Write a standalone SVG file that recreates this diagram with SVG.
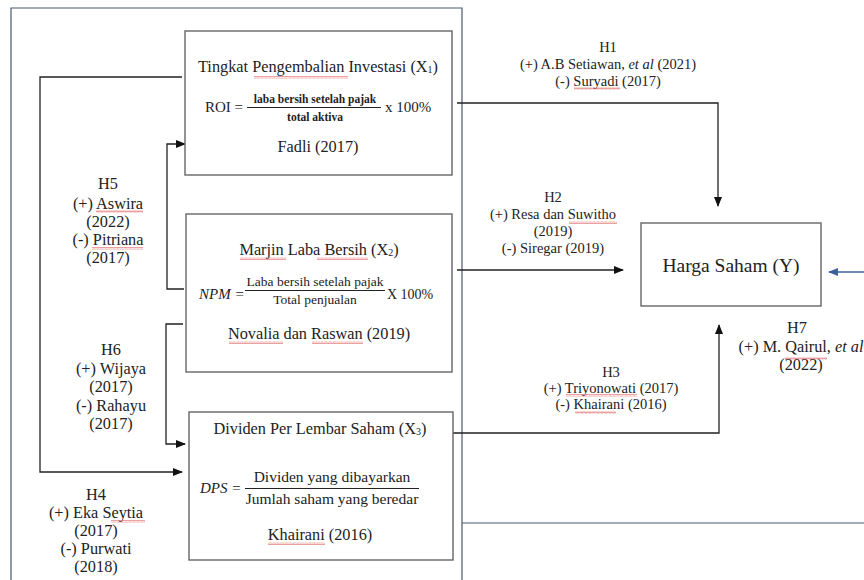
<svg xmlns="http://www.w3.org/2000/svg" width="864" height="580" viewBox="0 0 864 580">
<style>
text{font-family:"Liberation Serif","Times New Roman",serif;fill:#222;}
.t{font-size:16.3px;text-anchor:middle;}
.l{font-size:16.3px;text-anchor:middle;}
.h{font-size:14.5px;text-anchor:middle;}
.f{font-size:11.5px;text-anchor:middle;font-weight:bold;}
.m{font-size:15px;}
.mi{font-size:15px;font-style:italic;}
.box{fill:#fff;stroke:#666;stroke-width:1.4;}
.c{fill:none;stroke:#222;stroke-width:1.3;}
.frame{fill:none;stroke:#4a5a70;stroke-width:1.2;}
.sq{fill:url(#wave);}
</style>
<defs>
<marker id="ah" markerWidth="10" markerHeight="8" refX="9" refY="4" orient="auto" markerUnits="userSpaceOnUse">
<path d="M0,0 L10,4 L0,8 z" fill="#111"/>
</marker>
<marker id="ahb" markerWidth="10" markerHeight="8" refX="9" refY="4" orient="auto" markerUnits="userSpaceOnUse">
<path d="M0,0 L10,4 L0,8 z" fill="#3d5f9a"/>
</marker>
<pattern id="wave" width="4" height="3" patternUnits="userSpaceOnUse">
<path d="M0,2.5 L1,0.5 L2,2.5 L3,0.5 L4,2.5" fill="none" stroke="#e06060" stroke-width="0.6"/>
</pattern>
</defs>
<rect width="864" height="580" fill="#fff"/>
<g id="frame">
<path class="frame" d="M11,600 V8 H462 V600"/>
<line class="frame" x1="462" y1="523" x2="864" y2="523"/>
</g>
<g id="connectors">
<path class="c" d="M457,103 H718 V206" marker-end="url(#ah)"/>
<path class="c" d="M457,270 H623" marker-end="url(#ah)"/>
<path class="c" d="M453,433 H719 V325" marker-end="url(#ah)"/>
<path d="M864,272 H829" fill="none" stroke="#3d5f9a" stroke-width="1.3" marker-end="url(#ahb)"/>
<path class="c" d="M182,77 H40 V472 H182" marker-end="url(#ah)"/>
<path class="c" d="M184,289 H167 V144 H185" marker-end="url(#ah)"/>
<path class="c" d="M183,324 H166 V444 H185" marker-end="url(#ah)"/>
</g>
<g id="x1">
<rect class="box" x="185" y="31" width="267" height="144"/>
<text class="t" x="318" y="72">Tingkat Pengembalian Investasi (X<tspan font-size="10" dy="1">1</tspan><tspan dy="-1">)</tspan></text>
<text class="m" x="205" y="112">ROI =</text>
<text class="f" x="315" y="103">laba bersih setelah pajak</text>
<line x1="247" y1="107.5" x2="381" y2="107.5" stroke="#222" stroke-width="1"/>
<text class="f" x="315" y="121">total aktiva</text>
<text class="m" x="385" y="112">x 100%</text>
<text class="t" x="318" y="152">Fadli (2017)</text>
<rect class="sq" x="254" y="76" width="94" height="3"/>
</g>
<g id="x2">
<rect class="box" x="186" y="214" width="266" height="158"/>
<text class="t" x="319" y="255">Marjin Laba Bersih (X<tspan font-size="10" dy="1">2</tspan><tspan dy="-1">)</tspan></text>
<text class="mi" x="199" y="299">NPM =</text>
<text x="315" y="286" font-size="13.5" text-anchor="middle">Laba bersih setelah pajak</text>
<line x1="245" y1="290.5" x2="385" y2="290.5" stroke="#222" stroke-width="1"/>
<text x="315" y="304" font-size="13.5" text-anchor="middle">Total penjualan</text>
<text x="387" y="299" font-size="14">X 100%</text>
<text class="t" x="319" y="339">Novalia dan Raswan (2019)</text>
<rect class="sq" x="240" y="257" width="46" height="3"/>
<rect class="sq" x="317" y="257" width="51" height="3"/>
<rect class="sq" x="229" y="341" width="54" height="3"/>
<rect class="sq" x="312" y="341" width="51" height="3"/>
</g>
<g id="x3">
<rect class="box" x="189" y="412" width="264" height="148"/>
<text class="t" x="320" y="434">Dividen Per Lembar Saham (X<tspan font-size="10" dy="1">3</tspan><tspan dy="-1">)</tspan></text>
<text class="mi" x="200" y="493">DPS =</text>
<text x="332" y="482" font-size="15.5" text-anchor="middle">Dividen yang dibayarkan</text>
<line x1="245" y1="488.5" x2="419" y2="488.5" stroke="#222" stroke-width="1"/>
<text x="332" y="504" font-size="15.5" text-anchor="middle">Jumlah saham yang beredar</text>
<text class="t" x="320" y="540">Khairani (2016)</text>
<rect class="sq" x="268" y="542" width="57" height="3"/>
</g>
<g id="y">
<rect class="box" x="641" y="223" width="180" height="83"/>
<text x="731" y="272" font-size="19.5" text-anchor="middle">Harga Saham (Y)</text>
</g>
<g id="labels">
<text class="h" x="608" y="52">H1</text>
<text class="h" x="608" y="69">(+) A.B Setiawan, <tspan font-style="italic">et al</tspan> (2021)</text>
<text class="h" x="608" y="86">(-) Suryadi (2017)</text>
<rect class="sq" x="574" y="87" width="46" height="3"/>
<text class="h" x="553" y="202">H2</text>
<text class="h" x="553" y="219">(+) Resa dan Suwitho</text>
<text class="h" x="553" y="236">(2019)</text>
<text class="h" x="553" y="253">(-) Siregar (2019)</text>
<rect class="sq" x="569" y="221" width="48" height="3"/>
<text class="h" x="611" y="377">H3</text>
<text class="h" x="611" y="393">(+) Triyonowati (2017)</text>
<text class="h" x="611" y="409">(-) Khairani (2016)</text>
<rect class="sq" x="566" y="394" width="71" height="3"/>
<rect class="sq" x="575" y="411" width="41" height="3"/>
<text class="l" x="797" y="333">H7</text>
<text class="l" x="801" y="352">(+) M. Qairul, <tspan font-style="italic">et al</tspan></text>
<text class="l" x="801" y="370">(2022)</text>
<rect class="sq" x="785" y="357" width="42" height="3"/>
<text class="l" x="108" y="189">H5</text>
<text class="l" x="108" y="209">(+) Aswira</text>
<text class="l" x="108" y="227">(2022)</text>
<text class="l" x="108" y="245">(-) Pitriana</text>
<text class="l" x="108" y="263">(2017)</text>
<rect class="sq" x="96" y="210" width="47" height="3"/>
<rect class="sq" x="92" y="247" width="51" height="3"/>
<text class="l" x="111" y="355">H6</text>
<text class="l" x="111" y="374">(+) Wijaya</text>
<text class="l" x="111" y="392">(2017)</text>
<text class="l" x="111" y="411">(-) Rahayu</text>
<text class="l" x="111" y="429">(2017)</text>
<text class="l" x="96" y="500">H4</text>
<text class="l" x="96" y="518">(+) Eka Seytia</text>
<text class="l" x="96" y="536">(2017)</text>
<text class="l" x="96" y="554">(-) Purwati</text>
<text class="l" x="96" y="572">(2018)</text>
<rect class="sq" x="111" y="520" width="34" height="3"/>
</g>
</svg>
